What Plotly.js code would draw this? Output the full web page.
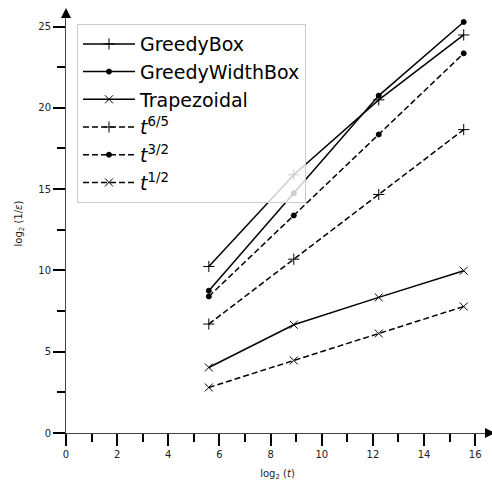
<!DOCTYPE html>
<html>
<head>
<meta charset="utf-8">
<script src="https://cdn.plot.ly/plotly-3.0.1.min.js"></script>
<style>html,body{margin:0;padding:0;background:#fff;}#chart{width:492px;height:486px;}</style>
</head>
<body>
<div id="chart"></div>
<script>
// log2(t) sample points
const xLog2t = [5.585, 8.907, 12.229, 15.551];
const greedyBox = [10.24, 15.88, 20.49, 24.48];
const greedyWidthBox = [8.75, 14.75, 20.75, 25.28];
const trapezoidal = [4.03, 6.66, 8.34, 9.98];
const ref65 = [6.70, 10.69, 14.67, 18.66];
const ref32 = [8.40, 13.38, 18.36, 23.35];
const ref12 = [2.80, 4.46, 6.12, 7.78];
const seriesNames = ["GreedyBox", "GreedyWidthBox", "Trapezoidal", "<i>t</i><sup>6/5</sup>", "<i>t</i><sup>3/2</sup>", "<i>t</i><sup>1/2</sup>"];

function mk(name, y, dash, sym, msize) {
  return {
    x: xLog2t, y: y, name: name, type: 'scatter', mode: 'lines+markers',
    line: {color: 'black', width: 1.5, dash: dash},
    marker: {symbol: sym, size: msize, color: 'black', line: {color: 'black', width: 1}},
    cliponaxis: false
  };
}
const traces = [
  mk(seriesNames[0], greedyBox, 'solid', 'cross-thin', 8),
  mk(seriesNames[1], greedyWidthBox, 'solid', 'circle', 5),
  mk(seriesNames[2], trapezoidal, 'solid', 'x-thin', 8),
  mk(seriesNames[3], ref65, '6px,3px', 'cross-thin', 8),
  mk(seriesNames[4], ref32, '6px,3px', 'circle', 5),
  mk(seriesNames[5], ref12, '6px,3px', 'x-thin', 8)
];

const tickFont = {family: 'DejaVu Sans', size: 10, color: '#222'};
const layout = {
  width: 492, height: 486,
  margin: {l: 66, r: 3, t: 14, b: 53, pad: 0},
  paper_bgcolor: 'white', plot_bgcolor: 'white',
  font: {family: 'DejaVu Sans', color: 'black'},
  showlegend: true,
  legend: {
    x: 0.026, y: 0.976, xanchor: 'left', yanchor: 'top',
    bgcolor: 'rgba(255,255,255,0.8)', bordercolor: '#cccccc', borderwidth: 1,
    itemwidth: 52,
    font: {family: 'DejaVu Sans', size: 19, color: 'black'}
  },
  xaxis: {
    range: [0, 16.54], showgrid: false, zeroline: false,
    showline: true, linecolor: '#444', linewidth: 1,
    ticks: 'outside', dtick: 2, tick0: 0, ticklen: 12, tickwidth: 2, tickcolor: 'black',
    minor: {dtick: 1, tick0: 0, ticks: 'outside', ticklen: 8, tickwidth: 2, tickcolor: 'black', showgrid: false},
    tickfont: tickFont,
    title: {text: 'log<sub>2</sub> (<i>t</i>)', font: {family: 'DejaVu Sans', size: 10, color: '#222'}, standoff: 10}
  },
  yaxis: {
    range: [0, 25.77], showgrid: false, zeroline: false,
    showline: true, linecolor: '#444', linewidth: 1,
    ticks: 'outside', dtick: 5, tick0: 0, ticklen: 12, tickwidth: 2, tickcolor: 'black',
    minor: {dtick: 2.5, tick0: 0, ticks: 'outside', ticklen: 8, tickwidth: 2, tickcolor: 'black', showgrid: false},
    tickfont: tickFont,
    title: {text: 'log<sub>2</sub> (1/<i>ε</i>)', font: {family: 'DejaVu Sans', size: 10, color: '#222'}, standoff: 13}
  },
  shapes: [
    {type: 'path', xref: 'paper', yref: 'paper', xsizemode: 'pixel', ysizemode: 'pixel',
     xanchor: 1, yanchor: 0, path: 'M -4 5 L 6 0 L -4 -5 Z', fillcolor: 'black', line: {width: 0}, layer: 'above'},
    {type: 'path', xref: 'paper', yref: 'paper', xsizemode: 'pixel', ysizemode: 'pixel',
     xanchor: 0, yanchor: 1, path: 'M -5 -4 L 5 -4 L 0 6 Z', fillcolor: 'black', line: {width: 0}, layer: 'above'}
  ]
};
Plotly.newPlot('chart', traces, layout, {displayModeBar: false, staticPlot: true});
</script>
</body>
</html>
